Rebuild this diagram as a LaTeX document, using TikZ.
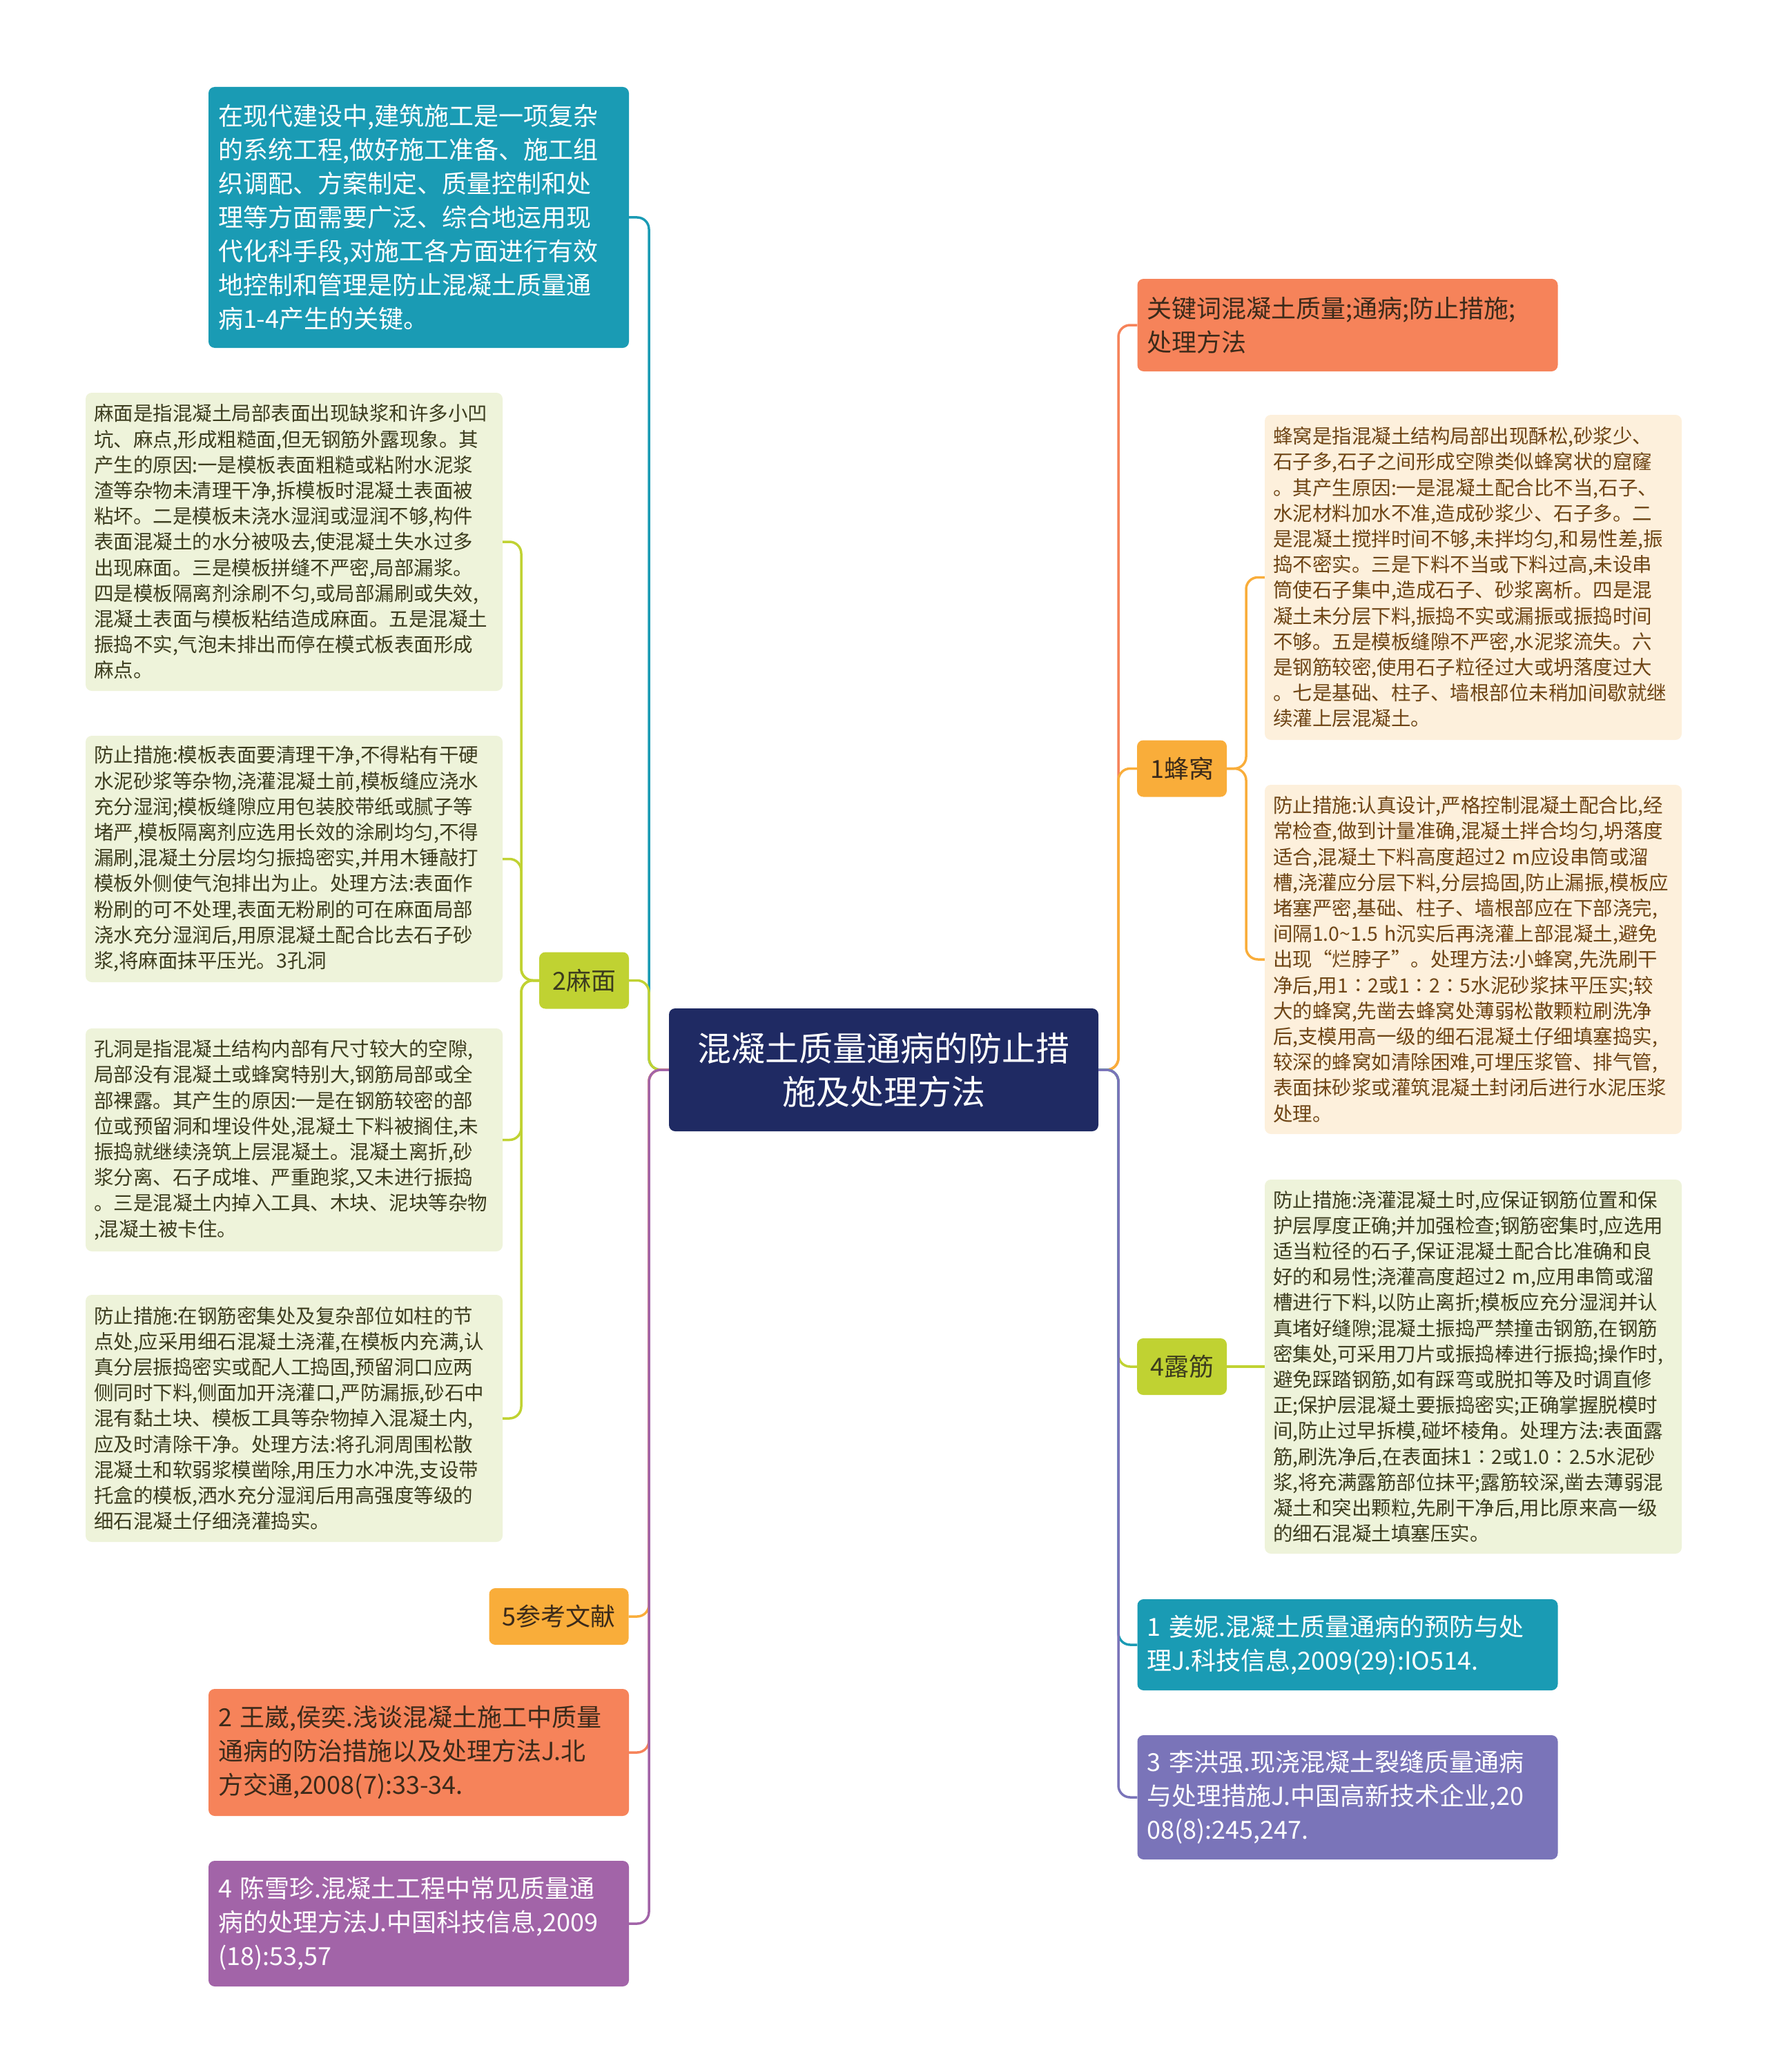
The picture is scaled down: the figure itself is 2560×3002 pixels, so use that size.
\documentclass[tikz,border=0pt]{standalone}
\usepackage{fontspec}
\setmainfont{Noto Sans CJK SC}
\usetikzlibrary{positioning}

\definecolor{cNavy}{HTML}{1F2A63}
\definecolor{cTeal}{HTML}{1A9BB4}
\definecolor{cSalmon}{HTML}{F6835A}
\definecolor{cAmber}{HTML}{F9AD3A}
\definecolor{cLime}{HTML}{C0D232}
\definecolor{cPurple}{HTML}{A264A8}
\definecolor{cIris}{HTML}{7A74B9}
\definecolor{cLeaf}{HTML}{EEF3DA}
\definecolor{cLeafText}{HTML}{3C3C1E}
\definecolor{cCream}{HTML}{FDF0DC}
\definecolor{cBrown}{HTML}{6E4414}
\definecolor{cInk}{HTML}{3B2A1A}

\begin{document}
\begin{tikzpicture}[x=1pt, y=-1pt,
    main/.style={rounded corners=9pt, fill=cNavy, text=white, align=center,
                 minimum width=622pt, minimum height=178pt,
                 font=\fontsize{49}{63}\selectfont},
    topic/.style={rounded corners=9pt, inner xsep=14pt, inner ysep=0pt, align=left,
                  text width=581pt, minimum height=#1,
                  font=\fontsize{36}{49}\selectfont},
    tag/.style={rounded corners=9pt, inner xsep=19pt, inner ysep=0pt,
                minimum height=82pt, font=\fontsize{36}{49}\selectfont},
    note/.style={rounded corners=9pt, inner xsep=12pt, inner ysep=0pt, align=left,
                 text width=580pt, minimum height=#1,
                 font=\fontsize{28.5}{37.2}\selectfont},
    conn/.style={line width=3.5pt, rounded corners=17pt},
]
\useasboundingbox (0,0) rectangle (2560,3002);

% Central topic
\node[main] (root) at (1280,1550) {混凝土质量通病的防止措\\施及处理方法};

% Left side
\node[topic=378pt, fill=cTeal, text=white] (intro) at (606.5,315) {
    在现代建设中,建筑施工是一项复杂\\
    的系统工程,做好施工准备、施工组\\
    织调配、方案制定、质量控制和处\\
    理等方面需要广泛、综合地运用现\\
    代化科手段,对施工各方面进行有效\\
    地控制和管理是防止混凝土质量通\\
    病1-4产生的关键。};

\node[tag, fill=cLime, text=cLeafText] (mm) at (846,1420.5) {2麻面};

\node[note=432pt, fill=cLeaf, text=cLeafText] (mmA) at (426,785) {
    麻面是指混凝土局部表面出现缺浆和许多小凹\\
    坑、麻点,形成粗糙面,但无钢筋外露现象。其\\
    产生的原因:一是模板表面粗糙或粘附水泥浆\\
    渣等杂物未清理干净,拆模板时混凝土表面被\\
    粘坏。二是模板未浇水湿润或湿润不够,构件\\
    表面混凝土的水分被吸去,使混凝土失水过多\\
    出现麻面。三是模板拼缝不严密,局部漏浆。\\
    四是模板隔离剂涂刷不匀,或局部漏刷或失效,\\
    混凝土表面与模板粘结造成麻面。五是混凝土\\
    振捣不实,气泡未排出而停在模式板表面形成\\
    麻点。};

\node[note=357pt, fill=cLeaf, text=cLeafText] (mmB) at (426,1244.5) {
    防止措施:模板表面要清理干净,不得粘有干硬\\
    水泥砂浆等杂物,浇灌混凝土前,模板缝应浇水\\
    充分湿润;模板缝隙应用包装胶带纸或腻子等\\
    堵严,模板隔离剂应选用长效的涂刷均匀,不得\\
    漏刷,混凝土分层均匀振捣密实,并用木锤敲打\\
    模板外侧使气泡排出为止。处理方法:表面作\\
    粉刷的可不处理,表面无粉刷的可在麻面局部\\
    浇水充分湿润后,用原混凝土配合比去石子砂\\
    浆,将麻面抹平压光。3孔洞};

\node[note=323pt, fill=cLeaf, text=cLeafText] (mmC) at (426,1651.5) {
    孔洞是指混凝土结构内部有尺寸较大的空隙,\\
    局部没有混凝土或蜂窝特别大,钢筋局部或全\\
    部裸露。其产生的原因:一是在钢筋较密的部\\
    位或预留洞和埋设件处,混凝土下料被搁住,未\\
    振捣就继续浇筑上层混凝土。混凝土离折,砂\\
    浆分离、石子成堆、严重跑浆,又未进行振捣\\
    。三是混凝土内掉入工具、木块、泥块等杂物\\
    ,混凝土被卡住。};

\node[note=358pt, fill=cLeaf, text=cLeafText] (mmD) at (426,2055) {
    防止措施:在钢筋密集处及复杂部位如柱的节\\
    点处,应采用细石混凝土浇灌,在模板内充满,认\\
    真分层振捣密实或配人工捣固,预留洞口应两\\
    侧同时下料,侧面加开浇灌口,严防漏振,砂石中\\
    混有黏土块、模板工具等杂物掉入混凝土内,\\
    应及时清除干净。处理方法:将孔洞周围松散\\
    混凝土和软弱浆模凿除,用压力水冲洗,支设带\\
    托盒的模板,洒水充分湿润后用高强度等级的\\
    细石混凝土仔细浇灌捣实。};

\node[tag, fill=cAmber, text=cInk] (refs) at (809.5,2342) {5参考文献};

\node[topic=184pt, fill=cSalmon, text=cInk] (refB) at (606.5,2539) {
    2~王崴,侯奕.浅谈混凝土施工中质量\\
    通病的防治措施以及处理方法J.北\\
    方交通,2008(7):33-34.};

\node[topic=182pt, fill=cPurple, text=white] (refD) at (606.5,2787) {
    4~陈雪珍.混凝土工程中常见质量通\\
    病的处理方法J.中国科技信息,2009\\
    (18):53,57};

% Right side
\node[topic=134pt, fill=cSalmon, text=cInk] (kw) at (1952,471) {
    关键词混凝土质量;通病;防止措施;\\
    处理方法};

\node[tag, fill=cAmber, text=cInk] (fw) at (1712,1113.5) {1蜂窝};

\node[note=471pt, fill=cCream, text=cBrown] (fwA) at (2134,836.5) {
    蜂窝是指混凝土结构局部出现酥松,砂浆少、\\
    石子多,石子之间形成空隙类似蜂窝状的窟窿\\
    。其产生原因:一是混凝土配合比不当,石子、\\
    水泥材料加水不准,造成砂浆少、石子多。二\\
    是混凝土搅拌时间不够,未拌均匀,和易性差,振\\
    捣不密实。三是下料不当或下料过高,未设串\\
    筒使石子集中,造成石子、砂浆离析。四是混\\
    凝土未分层下料,振捣不实或漏振或振捣时间\\
    不够。五是模板缝隙不严密,水泥浆流失。六\\
    是钢筋较密,使用石子粒径过大或坍落度过大\\
    。七是基础、柱子、墙根部位未稍加间歇就继\\
    续灌上层混凝土。};

\node[note=506pt, fill=cCream, text=cBrown] (fwB) at (2134,1390) {
    防止措施:认真设计,严格控制混凝土配合比,经\\
    常检查,做到计量准确,混凝土拌合均匀,坍落度\\
    适合,混凝土下料高度超过2~m应设串筒或溜\\
    槽,浇灌应分层下料,分层捣固,防止漏振,模板应\\
    堵塞严密,基础、柱子、墙根部应在下部浇完,\\
    间隔1.0\textasciitilde1.5~h沉实后再浇灌上部混凝土,避免\\
    出现“烂脖子”。处理方法:小蜂窝,先洗刷干\\
    净后,用1∶2或1∶2∶5水泥砂浆抹平压实;较\\
    大的蜂窝,先凿去蜂窝处薄弱松散颗粒刷洗净\\
    后,支模用高一级的细石混凝土仔细填塞捣实,\\
    较深的蜂窝如清除困难,可埋压浆管、排气管,\\
    表面抹砂浆或灌筑混凝土封闭后进行水泥压浆\\
    处理。};

\node[tag, fill=cLime, text=cLeafText] (lj) at (1712,1980) {4露筋};

\node[note=542pt, fill=cLeaf, text=cLeafText] (ljA) at (2134,1980) {
    防止措施:浇灌混凝土时,应保证钢筋位置和保\\
    护层厚度正确;并加强检查;钢筋密集时,应选用\\
    适当粒径的石子,保证混凝土配合比准确和良\\
    好的和易性;浇灌高度超过2~m,应用串筒或溜\\
    槽进行下料,以防止离折;模板应充分湿润并认\\
    真堵好缝隙;混凝土振捣严禁撞击钢筋,在钢筋\\
    密集处,可采用刀片或振捣棒进行振捣;操作时,\\
    避免踩踏钢筋,如有踩弯或脱扣等及时调直修\\
    正;保护层混凝土要振捣密实;正确掌握脱模时\\
    间,防止过早拆模,碰坏棱角。处理方法:表面露\\
    筋,刷洗净后,在表面抹1∶2或1.0∶2.5水泥砂\\
    浆,将充满露筋部位抹平;露筋较深,凿去薄弱混\\
    凝土和突出颗粒,先刷干净后,用比原来高一级\\
    的细石混凝土填塞压实。};

\node[topic=132pt, fill=cTeal, text=white] (refA) at (1952,2383) {
    1~姜妮.混凝土质量通病的预防与处\\
    理J.科技信息,2009(29):IO514.};

\node[topic=180pt, fill=cIris, text=white] (refC) at (1952,2604) {
    3~李洪强.现浇混凝土裂缝质量通病\\
    与处理措施J.中国高新技术企业,20\\
    08(8):245,247.};

% Branch joints
\coordinate (jl) at (940,1550);
\coordinate (jr) at (1620,1550);
\coordinate (mmj) at (755,1420.5);
\coordinate (fwj) at (1805,1113.5);

% Left connectors
\draw[conn, cTeal] (root.west) -- (jl) |- (intro.east);
\draw[conn, cLime] (root.west) -- (jl) |- (mm.east);
\draw[conn, cAmber] (root.west) -- (jl) |- (refs.east);
\draw[conn, cSalmon] (root.west) -- (jl) |- (refB.east);
\draw[conn, cPurple] (root.west) -- (jl) |- (refD.east);
\foreach \n in {mmA,mmB,mmC,mmD}
    \draw[conn, cLime] (mm.west) -- (mmj) |- (\n.east);

% Right connectors
\draw[conn, cSalmon] (root.east) -- (jr) |- (kw.west);
\draw[conn, cAmber] (root.east) -- (jr) |- (fw.west);
\draw[conn, cLime] (root.east) -- (jr) |- (lj.west);
\draw[conn, cTeal] (root.east) -- (jr) |- (refA.west);
\draw[conn, cIris] (root.east) -- (jr) |- (refC.west);
\foreach \n in {fwA,fwB}
    \draw[conn, cAmber] (fw.east) -- (fwj) |- (\n.west);
\draw[conn, cLime] (lj.east) -- (ljA.west);
\end{tikzpicture}
\end{document}
